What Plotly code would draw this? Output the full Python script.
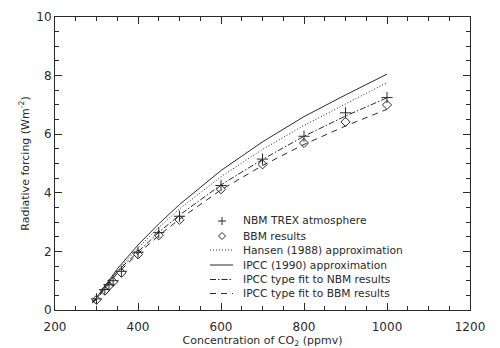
import plotly.graph_objects as go

# CO2 concentration (ppmv) of the narrow-band / broad-band model runs
conc_pts = [300, 320, 330, 340, 360, 400, 450, 500, 600, 700, 800, 900, 1000]
nbm_trex = [0.38, 0.70, 0.86, 1.00, 1.32, 1.97, 2.64, 3.20, 4.25, 5.15, 5.93, 6.73, 7.25]
bbm_res = [0.35, 0.66, 0.82, 0.96, 1.27, 1.90, 2.55, 3.08, 4.12, 4.97, 5.70, 6.42, 7.00]

# curves, sampled along concentration
conc_line = [290, 300, 350, 400, 450, 500, 600, 700, 800, 900, 1000]
hansen_1988 = [0.27, 0.40, 1.33, 2.12, 2.82, 3.45, 4.55, 5.48, 6.30, 7.03, 7.76]
ipcc_1990 = [0.28, 0.42, 1.40, 2.22, 2.94, 3.60, 4.76, 5.74, 6.60, 7.34, 8.05]
fit_nbm = [0.26, 0.39, 1.32, 2.00, 2.65, 3.24, 4.27, 5.14, 5.93, 6.62, 7.24]
fit_bbm = [0.24, 0.36, 1.25, 1.92, 2.54, 3.10, 4.10, 4.93, 5.65, 6.28, 6.85]

INK = "#2a2a2a"
FONT = "DejaVu Sans"

fig = go.Figure()
fig.add_trace(go.Scatter(x=conc_line, y=ipcc_1990, mode="lines",
                         line=dict(color=INK, width=1), showlegend=False))
fig.add_trace(go.Scatter(x=conc_line, y=hansen_1988, mode="lines",
                         line=dict(color=INK, width=1, dash="1px,2px"), showlegend=False))
fig.add_trace(go.Scatter(x=conc_line, y=fit_nbm, mode="lines",
                         line=dict(color=INK, width=1, dash="6px,2px,1.5px,2px"), showlegend=False))
fig.add_trace(go.Scatter(x=conc_line, y=fit_bbm, mode="lines",
                         line=dict(color=INK, width=1, dash="6px,5px"), showlegend=False))
fig.add_trace(go.Scatter(x=conc_pts, y=nbm_trex, mode="markers",
                         marker=dict(symbol="cross-thin-open", size=8, color=INK,
                                     line=dict(color=INK, width=1)), showlegend=False))
fig.add_trace(go.Scatter(x=conc_pts, y=bbm_res, mode="markers",
                         marker=dict(symbol="diamond-open", size=7, color=INK,
                                     line=dict(color=INK, width=1)), showlegend=False))

# hand-built legend box inside the plot area (paper coordinates)
L, R, T, B = 55, 470, 17, 310


def px(xp):
    return (xp - L) / (R - L)


def py(yp):
    return (B - yp) / (B - T)


labels = ["NBM TREX atmosphere", "BBM results", "Hansen (1988) approximation",
          "IPCC (1990) approximation", "IPCC type fit to NBM results",
          "IPCC type fit to BBM results"]
rows = [221, 236, 250, 265, 279.5, 293.5]
shapes = []
annotations = []
for lab, r in zip(labels, rows):
    annotations.append(dict(x=px(241), y=py(r), xref="paper", yref="paper",
                            text=lab, showarrow=False, xanchor="left", yanchor="middle",
                            font=dict(family=FONT, size=10.7, color=INK)))

# plus sign
cx, cy = 222, rows[0]
shapes.append(dict(type="line", xref="paper", yref="paper", x0=px(cx - 4), x1=px(cx + 4),
                   y0=py(cy), y1=py(cy), line=dict(color=INK, width=1)))
shapes.append(dict(type="line", xref="paper", yref="paper", x0=px(cx), x1=px(cx),
                   y0=py(cy - 4), y1=py(cy + 4), line=dict(color=INK, width=1)))
# diamond
cy = rows[1]
path = "M {a},{b} L {c},{d} L {e},{b} L {c},{f} Z".format(
    a=px(cx - 3.5), b=py(cy), c=px(cx), d=py(cy - 3.5), e=px(cx + 3.5), f=py(cy + 3.5))
shapes.append(dict(type="path", xref="paper", yref="paper", path=path,
                   line=dict(color=INK, width=1)))
# line samples
for r, dash in zip(rows[2:], ["1px,2px", "solid", "6px,2px,1.5px,2px", "6px,5px"]):
    shapes.append(dict(type="line", xref="paper", yref="paper", x0=px(210), x1=px(233),
                       y0=py(r), y1=py(r), line=dict(color=INK, width=1, dash=dash)))

axis_common = dict(
    showline=True, linecolor=INK, linewidth=1, mirror="allticks",
    ticks="inside", ticklen=7, tickwidth=1, tickcolor=INK,
    showgrid=False, zeroline=False, automargin=False,
    tickfont=dict(family=FONT, size=12, color=INK),
)

fig.update_layout(
    width=500, height=348,
    margin=dict(l=L, r=500 - R, t=T, b=348 - B),
    paper_bgcolor="white", plot_bgcolor="white",
    showlegend=False,
    shapes=shapes, annotations=annotations,
    xaxis=dict(axis_common, range=[200, 1200], tickvals=[200, 400, 600, 800, 1000, 1200],
               ticklabelstandoff=6,
               minor=dict(dtick=50, ticks="inside", ticklen=4, tickcolor=INK, showgrid=False),
               title=dict(text="Concentration of CO<sub>2</sub> (ppmv)", standoff=6,
                          font=dict(family=FONT, size=11, color=INK))),
    yaxis=dict(axis_common, range=[0, 10], tickvals=[0, 2, 4, 6, 8, 10],
               minor=dict(dtick=0.5, ticks="inside", ticklen=4, tickcolor=INK, showgrid=False),
               title=dict(text="Radiative forcing (Wm<sup>-2</sup>)", standoff=4,
                          font=dict(family=FONT, size=11, color=INK))),
)

fig.write_html("out.html")
